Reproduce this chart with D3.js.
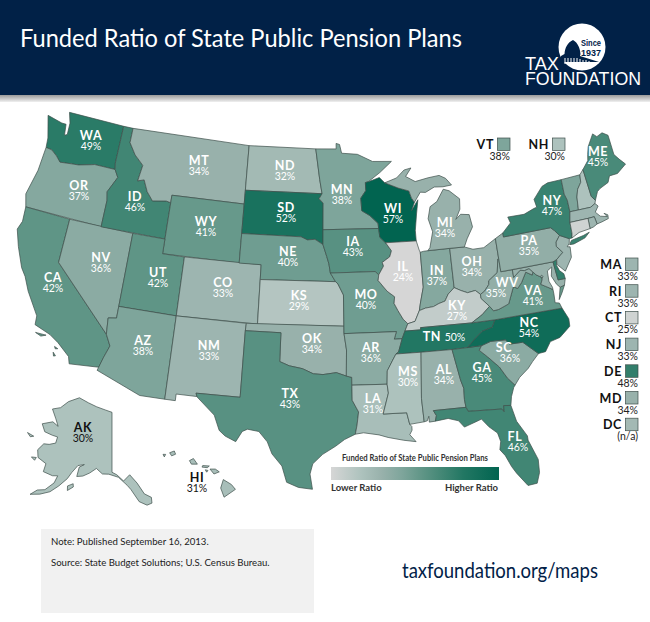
<!DOCTYPE html>
<html>
<head>
<meta charset="utf-8">
<script src="https://cdn.jsdelivr.net/npm/d3@7"></script>
<style>
  body { margin: 0; background: #fff; }
  text { font-family: Lato, "Open Sans", sans-serif; }
</style>
</head>
<body>
<div id="chart"></div>
<script>
// funded ratio by state
var stateCodes = ["AL","AK","AZ","AR","CA","CO","CT","DE","FL","GA","HI","ID","IL","IN","IA","KS","KY","LA","ME","MD","MA","MI","MN","MS","MO","MT","NE","NV","NH","NJ","NM","NY","NC","ND","OH","OK","OR","PA","RI","SC","SD","TN","TX","UT","VT","VA","WA","WV","WI","WY"];
var stateValues = [34,30,38,36,42,33,25,48,46,45,31,46,24,37,43,29,27,31,45,34,33,34,38,30,40,34,40,36,30,33,33,47,54,32,34,34,37,35,33,36,52,50,43,42,38,41,49,35,57,41];

var sideCodes = ["MA","RI","CT","NJ","DE","MD","DC"];
var topCodes = ["VT","NH"];
var colorStops = [24,30,34,38,42,46,50,57];
var colorRange = ["#d6d6d6","#adc2bd","#98b1ab","#7ea59b","#5f9586","#418674","#227763","#016450"];

// shared borders, lon/lat
var mnWi = [[-92.0,46.7],[-92.3,46.65],[-92.29,46.1],[-92.8,45.6],[-92.75,44.75],[-92.0,44.4],[-91.25,43.85],[-91.22,43.5]];
var iaWi = [[-91.22,43.5],[-91.15,42.9],[-90.64,42.51]];
var iaIl = [[-90.64,42.51],[-90.15,41.95],[-90.34,41.55],[-91.05,41.2],[-90.95,40.95],[-91.42,40.38]];
var moIl = [[-91.42,40.38],[-91.5,40.0],[-90.75,39.25],[-90.12,38.85],[-90.2,38.4],[-89.9,37.9],[-89.5,37.3],[-89.13,36.98]];
var arMs = [[-90.3,35.0],[-90.6,34.6],[-91.1,33.9],[-91.17,33.0]];
var laMs = [[-91.17,33.0],[-91.1,32.4],[-91.6,31.0],[-89.73,31.0],[-89.55,30.2]];
var inKy = [[-88.05,37.8],[-87.5,37.93],[-86.8,37.98],[-86.3,38.15],[-85.75,38.27],[-85.4,38.72],[-84.82,39.1]];
var ohKy = [[-84.82,39.1],[-84.25,38.85],[-83.7,38.65],[-83.0,38.73],[-82.6,38.42]];
var ohWv = [[-82.6,38.42],[-82.2,38.6],[-81.75,39.0],[-81.7,39.25],[-80.85,39.7],[-80.6,40.6],[-80.52,40.64]];
var kyWv = [[-82.6,38.42],[-82.6,38.15],[-81.97,37.54]];
var kyVa = [[-81.97,37.54],[-82.7,37.05],[-83.68,36.6]];
var vaWv = [[-77.72,39.32],[-77.83,39.13],[-78.35,39.4],[-78.87,38.77],[-79.3,38.42],[-79.65,38.58],[-80.3,37.5],[-81.22,37.24],[-81.68,37.2],[-81.97,37.54]];
var potomac = [[-77.72,39.32],[-77.5,39.1],[-77.05,38.85],[-77.05,38.7],[-77.25,38.4],[-76.95,38.25],[-76.3,37.9]];
var mdWv = [[-77.72,39.32],[-78.0,39.6],[-78.45,39.52],[-78.8,39.6],[-79.48,39.2],[-79.48,39.72]];
var ncTn = [[-81.68,36.59],[-82.0,36.12],[-82.9,35.95],[-83.5,35.57],[-84.32,34.99]];
var ncSc = [[-83.11,35.0],[-82.3,35.2],[-81.05,35.15],[-80.8,34.82],[-79.67,34.8],[-78.55,33.86]];
var gaSc = [[-83.11,35.0],[-83.35,34.7],[-82.75,34.2],[-81.9,33.4],[-81.4,32.6],[-80.87,32.03]];
var gaAl = [[-85.6,34.98],[-85.18,32.87],[-85.0,32.3],[-85.05,31.54],[-85.0,31.0]];
var gaFl = [[-85.0,31.0],[-84.86,30.71],[-82.21,30.57],[-82.05,30.36],[-82.02,30.78],[-81.45,30.72]];
var alFl = [[-85.0,31.0],[-87.6,31.0],[-87.4,30.65],[-87.52,30.28]];
var alMs = [[-88.2,35.0],[-88.47,31.9],[-88.4,30.3]];
var txOk = [[-100.0,34.56],[-99.2,34.3],[-98.1,34.13],[-97.2,33.8],[-96.4,33.75],[-95.3,33.88],[-94.48,33.64]];
var txLa = [[-94.04,33.02],[-94.04,32.0],[-93.55,31.2],[-93.7,30.3],[-93.85,29.7]];
var moNe = [[-95.77,40.58],[-95.31,40.0]];
var neIa = [[-96.45,42.5],[-96.1,41.7],[-95.9,41.2],[-95.77,40.58]];
var neSd = [[-96.45,42.5],[-97.2,42.85],[-97.9,42.8],[-98.5,43.0],[-104.05,43.0]];
var redRiver = [[-96.56,45.94],[-96.8,46.9],[-97.23,49.0]];
var mnSd = [[-96.56,45.94],[-96.85,45.6],[-96.45,45.3],[-96.45,43.5]];
var idMt = [[-116.05,49.0],[-116.05,48.0],[-115.3,47.25],[-114.35,46.65],[-114.55,45.55],[-113.95,45.7],[-113.45,44.95],[-112.8,44.4],[-111.5,44.55],[-111.05,44.48]];
var idOr = [[-117.03,42.0],[-117.03,43.83],[-117.2,44.4],[-116.5,45.5],[-116.92,45.99]];
var orWa = [[-116.92,45.99],[-118.98,46.0],[-119.3,45.93],[-120.5,45.7],[-121.2,45.65],[-122.3,45.55],[-122.8,45.9],[-123.4,46.2],[-124.0,46.25]];
var azCa = [[-114.63,35.0],[-114.15,34.27],[-114.5,33.4],[-114.72,32.72]];
var azNv = [[-114.05,36.2],[-114.75,36.1],[-114.63,35.0]];
var vtNh = [[-71.5,45.01],[-71.6,44.5],[-72.05,44.1],[-72.3,43.6],[-72.46,42.73]];
var maNh = [[-72.46,42.73],[-71.3,42.7],[-70.82,42.87]];
var meNh = [[-71.08,45.3],[-70.98,43.4],[-70.7,43.07]];
var nyVt = [[-73.35,45.0],[-73.4,44.0],[-73.25,43.55],[-73.27,42.75]];
var nyPa = [[-74.7,41.36],[-75.05,41.75],[-75.35,42.0],[-79.76,42.0],[-79.76,42.27]];
var njPa = [[-74.7,41.36],[-75.13,40.98],[-75.2,40.68],[-74.75,40.2],[-75.42,39.82]];
var wabash = [[-88.05,37.8],[-87.9,38.3],[-87.53,39.35],[-87.52,41.7]];

function rev(a) { return a.slice().reverse(); }

var outlines = {
  WA: [[[-124.75,48.38],[-123.2,48.15],[-122.75,48.15],[-122.6,47.4],[-122.35,47.5],[-122.4,48.3],[-122.75,49.0],[-117.03,49.0],[-117.04,46.42]].concat(orWa,[[-124.1,46.9]])],
  OR: [[[-124.55,42.84],[-124.2,42.0]].concat(idOr,orWa,[[-124.1,44.6]])],
  CA: [[[-124.2,42.0],[-120.0,42.0],[-120.0,39.0]].concat(azCa,[[-117.12,32.53],[-117.3,33.0],[-118.4,33.75],[-119.2,34.15],[-120.6,34.55],[-120.65,35.15],[-121.9,36.6],[-122.5,37.5],[-123.0,38.0],[-123.8,39.3],[-124.35,40.4],[-124.1,41.0]]),
       [[-120.4,34.05],[-119.5,34.05],[-119.9,33.9]],
       [[-118.6,33.45],[-118.3,33.35],[-118.5,33.3]],
       [[-118.6,33.05],[-118.35,32.85],[-118.5,32.8]]],
  NV: [[[-120.0,42.0],[-114.05,42.0]].concat(azNv,[[-120.0,39.0]])],
  ID: [[[-117.03,49.0]].concat(idMt,[[-111.05,42.0]],idOr,[[-117.04,46.42]])],
  MT: [[[-116.05,49.0],[-104.05,49.0],[-104.05,45.0],[-111.05,45.0]].concat(rev(idMt))],
  WY: [[[-111.05,45.0],[-104.05,45.0],[-104.05,41.0],[-111.05,41.0]]],
  UT: [[[-114.05,42.0],[-111.05,42.0],[-111.05,41.0],[-109.05,41.0],[-109.05,37.0],[-114.05,37.0]]],
  AZ: [[[-114.05,37.0],[-109.05,37.0],[-109.05,31.33],[-111.07,31.33],[-114.8,32.5]].concat(rev(azCa),rev(azNv))],
  CO: [[[-109.05,41.0],[-102.05,41.0],[-102.05,37.0],[-109.05,37.0]]],
  NM: [[[-109.05,37.0],[-103.0,37.0],[-103.04,36.5],[-103.06,32.0],[-106.62,32.0],[-106.53,31.78],[-108.2,31.78],[-108.2,31.33],[-109.05,31.33]]],
  ND: [[[-104.05,49.0],[-97.23,49.0]].concat(rev(redRiver),[[-104.05,45.94]])],
  SD: [[[-104.05,45.94]].concat(mnSd,neSd)],
  NE: [[[-104.05,43.0]].concat(rev(neSd),neIa,moNe,[[-102.05,40.0],[-102.05,41.0],[-104.05,41.0]])],
  KS: [[[-102.05,40.0],[-95.31,40.0],[-95.1,39.85],[-94.62,39.1],[-94.62,37.0],[-102.04,37.0]]],
  OK: [[[-103.0,37.0],[-94.62,37.0],[-94.62,36.5],[-94.43,35.4]].concat(rev(txOk),[[-100.0,36.5],[-103.04,36.5]])],
  TX: [[[-103.04,36.5],[-100.0,36.5]].concat(txOk,[[-94.04,33.55]],txLa,[[-94.7,29.35],[-95.4,28.9],[-96.4,28.35],[-97.15,27.7],[-97.35,27.0],[-97.15,25.96],[-98.2,26.07],[-99.1,26.4],[-99.5,27.5],[-100.3,28.3],[-100.7,29.1],[-101.4,29.77],[-102.3,29.88],[-102.7,29.7],[-103.15,28.98],[-104.0,29.3],[-104.5,29.65],[-105.0,30.65],[-106.5,31.75],[-106.62,32.0],[-103.06,32.0]])],
  MN: [[[-97.23,49.0],[-95.15,49.0],[-95.15,49.38],[-94.8,49.3],[-94.6,48.7],[-93.0,48.6],[-91.5,48.07],[-89.6,48.0],[-90.8,47.3]].concat(mnWi,rev(mnSd),[[-96.8,46.9]])],
  IA: [[[-96.45,43.5],[-91.22,43.5]].concat(iaWi,iaIl,[[-91.73,40.61]],rev(neIa))],
  MO: [[[-95.77,40.58],[-91.73,40.61]].concat(moIl,[[-89.42,36.5],[-89.7,36.0],[-90.37,36.0],[-90.15,36.5],[-94.62,36.5],[-94.62,37.0],[-94.62,39.1],[-95.1,39.85],[-95.31,40.0]])],
  AR: [[[-94.62,36.5],[-90.15,36.5],[-90.37,36.0],[-89.7,36.0],[-90.07,35.13]].concat(arMs,[[-94.04,33.02],[-94.04,33.55],[-94.48,33.64],[-94.43,35.4]])],
  LA: [[[-94.04,33.02]].concat(laMs,[[-89.4,30.05],[-89.4,29.8],[-89.6,29.5],[-89.15,29.0],[-90.1,29.15],[-91.3,29.4],[-92.0,29.6],[-93.2,29.78]],rev(txLa))],
  WI: [[[-90.9,46.95],[-90.4,46.57],[-89.1,46.15],[-88.1,45.9],[-87.9,45.4],[-87.65,45.1],[-88.0,44.55],[-87.3,45.25],[-87.55,44.3],[-87.8,43.2],[-87.8,42.49]].concat(rev(iaWi),rev(mnWi))],
  IL: [[[-90.64,42.51],[-87.8,42.49],[-87.6,41.85]].concat(rev(wabash),[[-88.5,37.1]],rev(moIl),rev(iaIl))],
  IN: [[[-87.2,41.75],[-86.82,41.76],[-84.8,41.76],[-84.82,39.1]].concat(rev(inKy),wabash)],
  OH: [[[-84.8,41.76],[-83.45,41.73],[-82.7,41.5],[-81.7,41.5],[-80.52,41.98]].concat(rev(ohWv),rev(ohKy))],
  KY: [[[-89.13,36.98],[-88.5,37.1]].concat(inKy,ohKy,kyWv,kyVa,[[-88.07,36.65],[-88.06,36.5],[-89.42,36.5]])],
  TN: [[[-83.68,36.6],[-81.68,36.59]].concat(ncTn,[[-85.6,34.98],[-88.2,35.0],[-90.3,35.0],[-90.07,35.13],[-89.7,36.0],[-89.42,36.5],[-88.06,36.5],[-88.07,36.65]])],
  MS: [[[-88.2,35.0],[-90.3,35.0]].concat(arMs.slice(1),laMs.slice(1),[[-88.4,30.3]],rev(alMs).slice(1))],
  AL: [[[-88.2,35.0]].concat(gaAl,alFl.slice(1),[[-88.0,30.25],[-88.0,30.65],[-88.15,30.35]],rev(alMs).slice(0,2))],
  GA: [[[-85.6,34.98],[-84.32,34.99]].concat(gaSc,[[-81.0,31.9],[-81.3,31.3]],rev(gaFl),rev(gaAl).slice(1))],
  FL: [alFl.concat([[-86.5,30.38],[-85.7,30.15],[-85.3,29.68],[-84.35,29.95],[-83.9,30.08],[-83.4,29.5],[-82.8,29.0],[-82.65,28.4],[-82.8,27.85],[-82.45,27.4],[-82.1,26.6],[-81.8,26.1],[-81.1,25.15],[-80.4,25.2],[-80.1,25.9],[-80.03,26.8],[-80.55,28.2],[-80.55,28.5],[-81.2,29.6]],rev(gaFl).slice(0,-1))],
  SC: [ncSc.concat([[-79.15,33.4],[-79.6,33.0],[-80.4,32.5]],rev(gaSc).slice(0,-1))],
  NC: [[[-81.68,36.59],[-75.87,36.55],[-75.5,35.75],[-75.55,35.25],[-76.55,34.65],[-77.4,34.5],[-77.95,33.9]].concat(rev(ncSc),[[-84.32,34.99]],rev(ncTn).slice(1,-1))],
  VA: [rev(kyVa).concat(rev(vaWv),potomac.slice(1),[[-76.3,37.6],[-76.35,37.0],[-76.0,36.92],[-75.87,36.55],[-81.68,36.59]]),
       [[-75.95,37.15],[-75.6,37.55],[-75.24,38.03],[-75.65,37.95]]],
  WV: [[[-80.52,40.64],[-80.52,39.72],[-79.48,39.72]].concat(rev(mdWv),vaWv,rev(kyWv),ohWv)],
  MD: [[[-79.48,39.72],[-75.79,39.72],[-75.69,38.46],[-75.05,38.45],[-75.24,38.03],[-75.65,37.95],[-75.9,38.2],[-76.2,38.8],[-76.0,39.4],[-76.45,39.2],[-76.5,38.5],[-76.3,38.05]].concat(rev(potomac),mdWv)],
  DE: [[[-75.79,39.72],[-75.42,39.82],[-75.55,39.45],[-75.4,39.05],[-75.08,38.78],[-75.05,38.45],[-75.69,38.46]]],
  PA: [[[-80.52,41.98]].concat(rev(nyPa),njPa,[[-75.79,39.72],[-80.52,39.72],[-80.52,40.64]])],
  NJ: [[[-74.7,41.36],[-73.9,41.0],[-74.0,40.7],[-74.25,40.5],[-74.0,40.45],[-74.1,39.75],[-74.9,38.93],[-75.5,39.5],[-75.42,39.82]].concat(rev(njPa).slice(1,-1))],
  NY: [[[-79.76,42.27],[-78.9,42.85],[-79.05,43.27],[-77.5,43.25],[-76.5,43.5],[-76.2,43.55],[-76.3,44.1],[-75.3,44.85],[-74.7,45.0]].concat(nyVt,[[-73.5,42.05],[-73.55,41.3],[-73.65,41.0],[-73.9,41.0]],nyPa),
       [[-74.0,40.6],[-73.75,40.85],[-72.6,40.98],[-72.0,41.1],[-72.5,40.8],[-73.6,40.58]]],
  VT: [[[-73.35,45.0]].concat(vtNh,rev(nyVt).slice(0,-1))],
  NH: [[[-71.5,45.01]].concat(meNh,[[-70.82,42.87]],rev(maNh).slice(1),rev(vtNh).slice(1,-1))],
  ME: [[[-71.08,45.3],[-70.4,45.8],[-70.25,46.2],[-70.0,46.7],[-69.23,47.46],[-68.9,47.2],[-68.3,47.35],[-67.8,47.07],[-67.8,45.7],[-67.45,45.3],[-67.0,44.85],[-68.0,44.4],[-68.8,44.4],[-69.1,44.0],[-70.0,43.75],[-70.3,43.6],[-70.7,43.07],[-70.98,43.4]]],
  MA: [[[-73.5,42.05],[-73.27,42.75]].concat(maNh,[[-70.6,42.65],[-71.0,42.3],[-70.65,41.95],[-70.05,41.8],[-70.25,42.07],[-69.95,41.9],[-70.0,41.65],[-70.65,41.55],[-71.12,41.5],[-71.2,42.02],[-71.8,42.02]])],
  RI: [[[-71.8,42.02],[-71.2,42.02],[-71.12,41.5],[-71.5,41.37],[-71.85,41.32]]],
  CT: [[[-73.5,42.05],[-71.8,42.02],[-71.85,41.32],[-72.9,41.25],[-73.65,41.0],[-73.55,41.3]]],
  MI: [[[-86.82,41.76],[-84.8,41.76],[-83.45,41.73],[-83.1,42.25],[-82.45,43.0],[-82.6,43.85],[-83.4,43.95],[-83.9,43.65],[-83.4,44.3],[-83.3,45.0],[-84.2,45.63],[-84.75,45.78],[-85.5,45.0],[-86.2,44.7],[-86.5,43.9],[-86.2,43.0],[-86.6,41.95]],
       [[-90.4,46.57],[-89.2,46.85],[-88.4,47.35],[-87.7,47.45],[-88.3,46.9],[-87.4,46.5],[-86.1,46.67],[-85.0,46.75],[-84.4,46.5],[-83.9,46.0],[-84.75,45.95],[-85.6,46.0],[-86.5,45.7],[-87.0,45.75],[-87.65,45.1],[-87.9,45.4],[-88.1,45.9],[-89.1,46.15]]],
  AK: [[[-141,69.65],[-141,60.3],[-139.5,59.9],[-137.5,58.9],[-135.5,59.8],[-133.5,58.4],[-131.8,56.6],[-130,55.9],[-130.1,55.0],[-131.5,54.8],[-133.5,55.5],[-135.5,57.5],[-136.5,58.2],[-139,59.5],[-142,60.0],[-144,60.0],[-146,60.8],[-148,60.0],[-150,59.4],[-151.8,59.2],[-151.5,60.7],[-150,61.2],[-152,60.9],[-153.5,59.7],[-154.5,58.6],[-156.5,57.2],[-158.5,56.0],[-161,55.2],[-163.5,54.7],[-162,55.7],[-160,56.1],[-158,57.5],[-157.5,58.7],[-159,58.5],[-162,58.7],[-162,60],[-165,60.5],[-166,61.6],[-164.8,62.8],[-163,63],[-161,63.5],[-161,64.5],[-163,64.5],[-166,64.6],[-168,65.6],[-164.5,66.5],[-162,66.1],[-163.8,67.1],[-166.5,68.35],[-163.5,69],[-161,70.3],[-156.6,71.35],[-152,70.85],[-148,70.4],[-144,70]],
       [[-154,57.5],[-152.5,58],[-152.3,57.5],[-153.8,56.8]],
       [[-171.5,63.4],[-169,63.3],[-170,63]],
       [[-167,60.2],[-165.5,60.4],[-165.7,59.9]]],
  HI: [[[-155.7,20.2],[-155.1,19.85],[-154.8,19.5],[-155.65,18.95],[-155.9,19.6]],
       [[-156.7,20.95],[-156.3,20.95],[-156.0,20.75],[-156.4,20.6]],
       [[-157.25,21.2],[-156.75,21.17],[-156.9,21.05],[-157.3,21.09]],
       [[-157.05,20.9],[-156.85,20.85],[-156.95,20.73]],
       [[-158.25,21.55],[-157.95,21.7],[-157.65,21.3],[-158.1,21.3]],
       [[-159.75,22.1],[-159.4,22.23],[-159.3,22.0],[-159.6,21.88]],
       [[-160.25,21.98],[-160.05,21.98],[-160.15,21.8]]],
  DC: [[[-77.12,38.93],[-77.04,39.0],[-76.91,38.89],[-77.04,38.79]]]
};

var svgWidth = 650, svgHeight = 622;

var svg = d3.select("#chart").append("svg")
  .attr("width", svgWidth)
  .attr("height", svgHeight);

var defs = svg.append("defs");

var valueById = {};
stateCodes.forEach(function(c, i) { valueById[c] = stateValues[i]; });

var color = d3.scaleLinear().domain(colorStops).range(colorRange);
var noDataColor = "#a3b9b4";

// d3.geo wants clockwise rings, flip any that came out inside-out
function toFeature(code) {
  var polys = outlines[code].map(function(ring) {
    var r = ring.concat([ring[0]]);
    if (d3.geoArea({type: "Polygon", coordinates: [r]}) > 2 * Math.PI) r.reverse();
    return [r];
  });
  return {type: "Feature", id: code, geometry: {type: "MultiPolygon", coordinates: polys}};
}

var lower48 = d3.geoAlbers().scale(844).translate([321, 301]);
var alaska = d3.geoConicEqualArea().rotate([141, 0]).center([0, 65]).parallels([55, 65]).scale(368).translate([112, 442]);
var hawaii = d3.geoConicEqualArea().rotate([157, 0]).center([0, 20.6]).parallels([8, 18]).scale(810).translate([206, 474]);

function pathFor(code) {
  var proj = code === "AK" ? alaska : code === "HI" ? hawaii : lower48;
  return d3.geoPath(proj);
}

var features = Object.keys(outlines).map(toFeature);

svg.append("g").selectAll("path")
  .data(features)
  .enter().append("path")
  .attr("d", function(d) { return pathFor(d.id)(d); })
  .attr("fill", function(d) { return valueById[d.id] ? color(valueById[d.id]) : noDataColor; })
  .attr("stroke", "#3e4f4b")
  .attr("stroke-width", 0.7)
  .attr("stroke-linejoin", "round");

// hand placed, [x, middle of the abbreviation]; the map has them off-centre in places
var labelPos = {
  WA:[91,136], OR:[79,186], CA:[53,278], NV:[101,258], ID:[135,197], MT:[199,161], WY:[206,222], UT:[158,273],
  AZ:[143,341], CO:[223,283], NM:[209,346], ND:[285,166], SD:[286,208], NE:[288,252], KS:[299,296], OK:[312,339],
  TX:[290,394], MN:[342,190], IA:[353,242], MO:[366,295], AR:[371,348], LA:[373,399], WI:[393,209], IL:[403,267],
  MI:[445,223], IN:[437,271], OH:[472,262], KY:[457,306], TN:[444,337], MS:[408,372], AL:[444,370], GA:[482,368],
  FL:[515,437], SC:[504,348], NC:[529,323], VA:[533,291], WV:[507,283], PA:[529,241], NY:[552,201], ME:[598,152],
  AK:[83,428], HI:[197,478]
};
// value label sits apart from its abbreviation here
var valueShift = {WV: -11, SC: 6, FL: 3};

Object.keys(labelPos).forEach(function(code) {
  var x = labelPos[code][0], y = labelPos[code][1];
  var fill = (code === "AK" || code === "HI") ? "#111" : "#fff";
  if (code === "TN") {
    var t = svg.append("text").attr("x", x).attr("y", y + 4).attr("text-anchor", "middle").attr("fill", fill);
    t.append("tspan").attr("font-size", 12.5).attr("font-weight", 700).attr("letter-spacing", 0.6).text("TN ");
    t.append("tspan").attr("font-size", 10.5).text(valueById[code] + "%");
    return;
  }
  svg.append("text").attr("x", x).attr("y", y + 4).attr("text-anchor", "middle").attr("fill", fill)
    .attr("font-size", 12.5).attr("font-weight", 700).attr("letter-spacing", 0.6).text(code);
  svg.append("text").attr("x", x + (valueShift[code] || 0)).attr("y", y + 14).attr("text-anchor", "middle").attr("fill", fill)
    .attr("font-size", 10.5).text(valueById[code] + "%");
});

// key squares for the small states
function drawKey(code, right, top) {
  var v = valueById[code];
  svg.append("rect").attr("x", right - 12.5).attr("y", top).attr("width", 12.5).attr("height", 12.5)
    .attr("fill", v ? color(v) : noDataColor).attr("stroke", "#3e4f4b").attr("stroke-width", 0.7);
  svg.append("text").attr("x", right - 16).attr("y", top + 11).attr("text-anchor", "end")
    .attr("font-size", 12.5).attr("font-weight", 700).attr("letter-spacing", 0.6).attr("fill", "#111").text(code);
  svg.append("text").attr("x", right).attr("y", top + 22).attr("text-anchor", "end")
    .attr("font-size", 10.5).attr("fill", "#222").text(v ? v + "%" : "(n/a)");
}
topCodes.forEach(function(c, i) { drawKey(c, 510 + i * 55, 138); });
sideCodes.forEach(function(c, i) { drawKey(c, 638, 258 + i * 26.7); });

// gradient legend
var grad = defs.append("linearGradient").attr("id", "legendGrad");
colorStops.forEach(function(s, i) {
  grad.append("stop")
    .attr("offset", (s - 24) / (57 - 24))
    .attr("stop-color", colorRange[i]);
});
svg.append("rect").attr("x", 331).attr("y", 467).attr("width", 168).attr("height", 13).attr("fill", "url(#legendGrad)");
svg.append("text").attr("x", 342).attr("y", 461).attr("textLength", 146).attr("lengthAdjust", "spacingAndGlyphs")
  .attr("font-size", 9.5).attr("font-weight", 700).attr("fill", "#333").text("Funded Ratio of State Public Pension Plans");
svg.append("text").attr("x", 331).attr("y", 491)
  .attr("font-size", 9.5).attr("font-weight", 700).attr("fill", "#333").text("Lower Ratio");
svg.append("text").attr("x", 498).attr("y", 491).attr("text-anchor", "end")
  .attr("font-size", 9.5).attr("font-weight", 700).attr("fill", "#333").text("Higher Ratio");

// header band
var shadow = defs.append("linearGradient").attr("id", "shadowGrad").attr("x1", 0).attr("x2", 0).attr("y1", 0).attr("y2", 1);
shadow.append("stop").attr("offset", 0).attr("stop-color", "#9a9a9a");
shadow.append("stop").attr("offset", 1).attr("stop-color", "#f0f0f0");
svg.append("rect").attr("x", 0).attr("y", 95).attr("width", svgWidth).attr("height", 7).attr("fill", "url(#shadowGrad)");
svg.append("rect").attr("x", 0).attr("y", 0).attr("width", svgWidth).attr("height", 95).attr("fill", "#012147");
svg.append("text").attr("x", 20).attr("y", 47).attr("font-size", 25).attr("fill", "#fff")
  .attr("textLength", 442).attr("lengthAdjust", "spacingAndGlyphs")
  .text("Funded Ratio of State Public Pension Plans");

// logo
var logo = svg.append("g");
logo.append("circle").attr("cx", 582).attr("cy", 47).attr("r", 23.5).attr("fill", "#fff");
// capitol dome and steps
logo.append("path")
  .attr("d", "M572 33 L573 40 C567 43 565 48 564.5 54 L561 56 L561 62 L599 62 L580 56 L580.5 54 C580 48 578 43 573 40 Z")
  .attr("fill", "#012147");
logo.append("path")
  .attr("d", "M565 58 V64 M568 58 V65 M571 58 V66 M574 58 V66 M577 58 V66 M580 59 V66 M583 60 V66 M586 60 V66 M589 61 V65")
  .attr("stroke", "#fff").attr("stroke-width", 1);
logo.selectAll("text.since")
  .data(["Since", "1937"])
  .enter().append("text")
  .attr("x", 591).attr("y", function(d, i) { return 46 + i * 10; })
  .attr("text-anchor", "middle").attr("font-size", 9).attr("font-weight", 700)
  .attr("textLength", 20).attr("lengthAdjust", "spacingAndGlyphs")
  .attr("fill", "#012147").style("font-family", "'Liberation Sans Narrow', 'Liberation Sans'")
  .text(function(d) { return d; });
logo.append("text").attr("x", 525).attr("y", 70).attr("font-size", 19).attr("fill", "#fff")
  .attr("textLength", 34).attr("lengthAdjust", "spacingAndGlyphs")
  .style("font-family", "'Liberation Sans'").text("TAX");
logo.append("text").attr("x", 525).attr("y", 85).attr("font-size", 19).attr("fill", "#fff")
  .attr("textLength", 116).attr("lengthAdjust", "spacingAndGlyphs")
  .style("font-family", "'Liberation Sans'").text("FOUNDATION");

// note box and url
svg.append("rect").attr("x", 41).attr("y", 529).attr("width", 273).attr("height", 84).attr("fill", "#f1f1f1");
svg.append("text").attr("x", 51).attr("y", 545).attr("font-size", 9.6).attr("fill", "#222").text("Note: Published September 16, 2013.");
svg.append("text").attr("x", 51).attr("y", 566).attr("font-size", 9.6).attr("fill", "#222").text("Source: State Budget Solutions; U.S. Census Bureau.");
svg.append("text").attr("x", 402).attr("y", 578).attr("font-size", 22).attr("fill", "#012147")
  .attr("textLength", 196).attr("lengthAdjust", "spacingAndGlyphs").text("taxfoundation.org/maps");
</script>
</body>
</html>
